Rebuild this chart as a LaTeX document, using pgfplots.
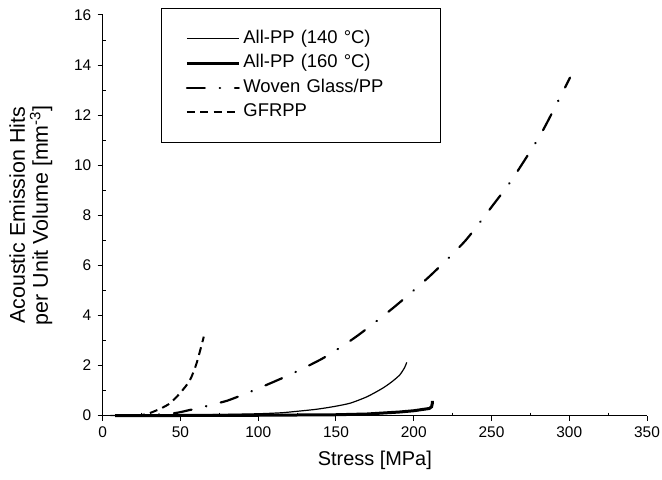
\documentclass[border=0pt]{standalone}
\usepackage{fontspec}
\setmainfont{Liberation Sans}
\usepackage{pgfplots}
\pgfplotsset{compat=1.18}

\begin{document}
\begin{tikzpicture}
% fixed page size: 662 x 480, axis box origin at (102.7, 415.5) from top-left
\useasboundingbox (-102.7bp,-64.5bp) rectangle (559.3bp,415.5bp);
\begin{axis}[
    scale only axis,
    width=544.3bp, height=400.5bp,
    xmin=0, xmax=350, ymin=0, ymax=16,
    axis lines*=left,
    axis line style={line width=1.1bp},
    xtick={0,50,...,350}, ytick={0,2,...,16},
    minor tick num=1,
    tick align=outside,
    major tick length=5bp, minor tick length=-3bp,
    tick style={black, line width=1bp},
    /pgf/number format/assume math mode=true,
    tick label style={font=\fontsize{15.5}{18}\selectfont},
    xticklabel style={yshift=-3bp},
    yticklabel style={xshift=-3bp},
    xlabel={Stress [MPa]},
    ylabel={Acoustic Emission Hits\\per Unit Volume [mm\textsuperscript{-3}]},
    xlabel style={font=\fontsize{20}{23}\selectfont,
        at={(axis description cs:0.5,-0.111)}, anchor=center},
    ylabel style={font=\fontsize{21.5}{23}\selectfont, align=center,
        at={(axis description cs:-0.132,0.5)}, anchor=center},
    clip=false,
    legend cell align=left,
    legend image code/.code={\draw[#1] (0bp,0bp) -- (52bp,0bp);},
    legend style={at={(axis cs:37.5,16.27)}, anchor=north west,
        draw=black, line width=0.8bp, inner xsep=24bp, inner ysep=18bp,
        row sep=0pt,
        font=\fontsize{18.5}{22}\selectfont,
        nodes={text width=170bp, text height=13bp, text depth=4bp,
               inner ysep=3.75bp, inner xsep=3bp, align=left}},
]
% All-PP (140 C)
\addplot[black, line width=1.2bp, smooth, tension=0.4] coordinates {
(5,0) (25,0.01) (50,0.02) (75,0.04) (100,0.07) (115,0.11) (127,0.18)
(137.6,0.25) (148,0.35) (159,0.49) (170,0.75) (180,1.09) (186,1.35)
(191,1.62) (194,1.9) (195.5,2.12)
};
% All-PP (160 C)
\addplot[black, line width=3bp] coordinates {
(8,0) (50,0) (100,0.01) (150,0.03) (170,0.06) (191,0.14) (200,0.19)
(210,0.28) (211.5,0.35) (212,0.5) (212,0.58)
};
% Woven Glass/PP
\addplot[black, line width=2.2bp, line cap=round,
    dash pattern=on 18bp off 14.75bp on 0.5bp off 14.75bp, smooth, tension=0.4] coordinates {
(15,0) (30,0.02) (40,0.06) (48,0.11) (56,0.22) (62.5,0.3) (71,0.45)
(80,0.59) (95,0.95) (120,1.62) (142,2.3) (163,3.15) (187,4.31)
(210,5.55) (233,6.97) (251,8.41) (263,9.41) (282,11.27) (300.5,13.5)
};
% GFRPP
\addplot[black, line width=2bp, dash pattern=on 8bp off 5.3bp, smooth, tension=0.4] coordinates {
(22,0) (28,0.05) (32.5,0.15) (38,0.3) (43.3,0.49) (49.7,0.89)
(56,1.4) (60.4,2.09) (65,3.15)
};
\legend{All-PP (140 °C), All-PP (160 °C), Woven Glass/PP, GFRPP}
\end{axis}
\end{tikzpicture}
\end{document}
